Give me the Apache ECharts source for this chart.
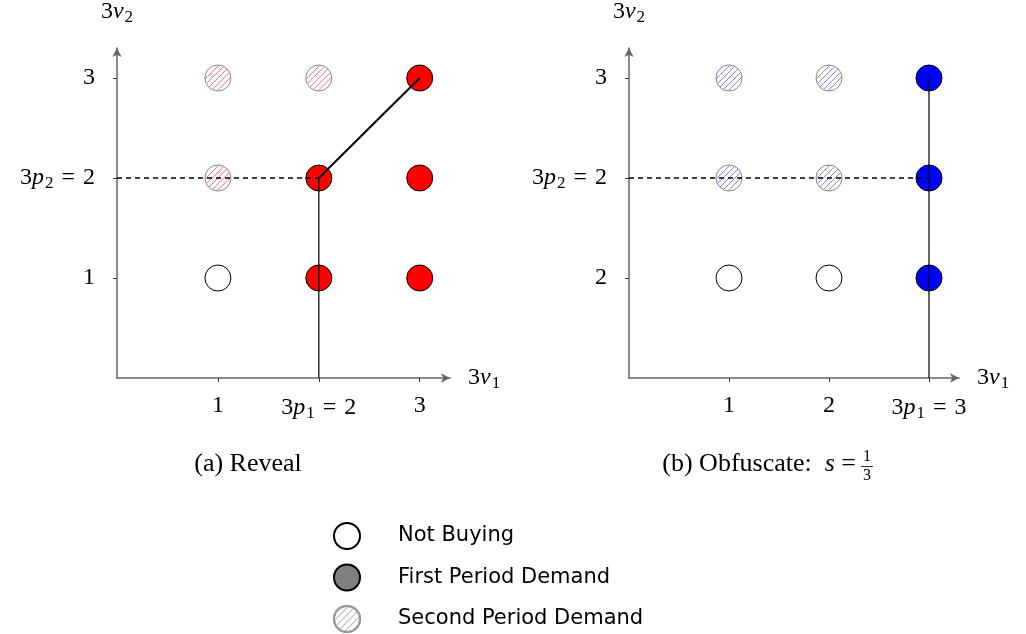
<!DOCTYPE html>
<html><head><meta charset="utf-8">
<script src="https://cdn.jsdelivr.net/npm/echarts@6/dist/echarts.min.js"></script>
<style>html,body{margin:0;padding:0;background:#fff}#c{width:1026px;height:634px}</style>
</head><body><div id="c"></div>
<script>
// ---- data ----
const tickValues = [1, 2, 3];
const aXTickLabels = ['1', '3{i|p}{s|1}\u2004=\u20042', '3'];
const aYTickLabels = ['1', '3{i|p}{s|2}\u2004=\u20042', '3'];
const bXTickLabels = ['1', '2', '3{i|p}{s|1}\u2004=\u20043'];
const bYTickLabels = ['2', '3{i|p}{s|2}\u2004=\u20042', '3'];

const aNotBuying = [[1, 1]];
const aFirst = [[2, 1], [3, 1], [2, 2], [3, 2], [3, 3]];
const aSecond = [[1, 2], [1, 3], [2, 3]];
const aSolid = [[2, 0], [2, 2]];
const aDiagonal = [[2, 2], [3, 3]];
const aDashed = [[0, 2], [2, 2]];

const bNotBuying = [[1, 1], [2, 1]];
const bFirst = [[3, 1], [3, 2], [3, 3]];
const bSecond = [[1, 2], [2, 2], [1, 3], [2, 3]];
const bSolid = [[3, 0], [3, 3]];
const bDashed = [[0, 2], [3, 2]];

const legendNames = ['Not Buying', 'First Period Demand', 'Second Period Demand'];
const captionA = '(a) Reveal';
const captionB = '(b) Obfuscate:\u2002{i|s}\u2005=';

// ---- styles ----
const SERIF = '"Liberation Serif", "DejaVu Serif", serif';
const FS = 24;
const R = 13;
const richMath = {
  i: { fontFamily: SERIF, fontStyle: 'italic', fontSize: FS, color: '#000' },
  s: { fontFamily: SERIF, fontSize: 17, color: '#000', padding: [11, 0, 0, 1] }
};
function legendHatch(color) {
  return { symbol: 'rect', dashArrayX: [1, 0], dashArrayY: [1, 3.3], rotation: -Math.PI / 4, color: color, symbolSize: 1 };
}
function xAxis(grid, labels) {
  return {
    type: 'value', gridIndex: grid, min: 0, max: 3.3, interval: 1,
    name: '3{i|v}{s|1}', nameLocation: 'end', nameGap: 18,
    nameTextStyle: { fontFamily: SERIF, fontSize: FS, color: '#000', rich: richMath, verticalAlign: 'middle' },
    axisLine: { show: true, onZero: false, lineStyle: { color: '#666', width: 1.5 }, symbol: ['none', 'arrow'], symbolSize: [7, 9] },
    axisTick: { show: true, customValues: tickValues, length: 4, lineStyle: { color: '#333', width: 1 } },
    axisLabel: { customValues: tickValues, margin: 16, fontFamily: SERIF, fontSize: FS, color: '#000', rich: richMath,
      formatter: v => labels[Math.round(v) - 1] || '' },
    splitLine: { show: false }
  };
}
function yAxis(grid, labels) {
  return {
    type: 'value', gridIndex: grid, min: 0, max: 3.3, interval: 1,
    name: '3{i|v}{s|2}', nameLocation: 'end', nameGap: 22,
    nameTextStyle: { fontFamily: SERIF, fontSize: FS, color: '#000', rich: richMath, align: 'center' },
    axisLine: { show: true, onZero: false, lineStyle: { color: '#666', width: 1.5 }, symbol: ['none', 'arrow'], symbolSize: [7, 9] },
    axisTick: { show: true, customValues: tickValues, length: 4, lineStyle: { color: '#333', width: 1 } },
    axisLabel: { customValues: tickValues, margin: 22, fontFamily: SERIF, fontSize: FS, color: '#000', rich: richMath,
      formatter: v => labels[Math.round(v) - 1] || '' },
    splitLine: { show: false }
  };
}
function pts(name, data, grid, fill, border, decal) {
  return {
    type: 'scatter', name: name, xAxisIndex: grid, yAxisIndex: grid, data: data,
    symbol: 'circle', symbolSize: 2 * R, z: 3, silent: true,
    itemStyle: { color: fill, borderColor: border, borderWidth: 1, opacity: 1, decal: decal },
    emphasis: { disabled: true }
  };
}
// hatched circles drawn through the axes' scales (api.coord)
function hatched(name, data, grid, hatchColor) {
  return {
    type: 'custom', name: name, xAxisIndex: grid, yAxisIndex: grid, data: data, z: 3, silent: true,
    renderItem: function (params, api) {
      const c = api.coord([api.value(0), api.value(1)]);
      const children = [{ type: 'circle', shape: { cx: c[0], cy: c[1], r: R }, style: { fill: '#fff', stroke: null } }];
      const sp = 4.2, rr = R - 0.3, s = Math.SQRT1_2;
      for (let k = -3; k <= 3; k++) {
        const d = k * sp;
        if (Math.abs(d) >= rr - 0.5) continue;
        const h = Math.sqrt(rr * rr - d * d);
        const px = c[0] + d * s, py = c[1] + d * s;
        children.push({ type: 'line', shape: { x1: px - h * s, y1: py + h * s, x2: px + h * s, y2: py - h * s },
          style: { stroke: hatchColor, lineWidth: 1 } });
      }
      children.push({ type: 'circle', shape: { cx: c[0], cy: c[1], r: R }, style: { fill: null, stroke: '#888', lineWidth: 1 } });
      return { type: 'group', children: children };
    }
  };
}
function seg(data, grid, width, dashed) {
  return {
    type: 'line', xAxisIndex: grid, yAxisIndex: grid, data: data, symbol: 'none', z: 5, silent: true,
    lineStyle: { color: '#000', width: width, type: dashed ? [5, 4] : 'solid' },
    emphasis: { disabled: true }
  };
}

const chart = echarts.init(document.getElementById('c'), null, { renderer: 'canvas' });
chart.setOption({
  backgroundColor: '#fff',
  animation: false,
  aria: { enabled: false },
  grid: [
    { left: 117, top: 48, width: 333, height: 330 },
    { left: 629, top: 48, width: 330, height: 330 }
  ],
  xAxis: [xAxis(0, aXTickLabels), xAxis(1, bXTickLabels)],
  yAxis: [yAxis(0, aYTickLabels), yAxis(1, bYTickLabels)],
  legend: {
    orient: 'vertical', left: 333, top: 522, padding: 0, itemWidth: 26, itemHeight: 26, itemGap: 13.5,
    selectedMode: false,
    data: legendNames,
    textStyle: { fontFamily: '"DejaVu Sans", sans-serif', fontSize: 21, color: '#000', padding: [0, 0, 0, 33] }
  },
  series: [
    // legend-only series (empty)
    pts(legendNames[0], [], 0, '#fff', '#000'),
    pts(legendNames[1], [], 0, '#808080', '#000'),
    pts(legendNames[2], [], 0, '#fff', '#999', legendHatch('#bbbbbb')),
    // panel a
    pts('a-not', aNotBuying, 0, '#fff', '#000'),
    pts('a-first', aFirst, 0, '#ff0000', '#000'),
    hatched('a-second', aSecond, 0, '#ff6f6f'),
    seg(aSolid, 0, 1.2, false),
    seg(aDiagonal, 0, 2, false),
    seg(aDashed, 0, 1.3, true),
    // panel b
    pts('b-not', bNotBuying, 1, '#fff', '#000'),
    pts('b-first', bFirst, 1, '#0000ff', '#000'),
    hatched('b-second', bSecond, 1, '#7f7fff'),
    seg(bSolid, 1, 1.2, false),
    seg(bDashed, 1, 1.3, true)
  ],
  graphic: [
    { type: 'text', x: 248, y: 464, style: { text: captionA, fontFamily: SERIF, fontSize: 26, fill: '#000', align: 'center', verticalAlign: 'middle' } },
    { type: 'text', x: 856, y: 464, style: { text: captionB, fontFamily: SERIF, fontSize: 26, fill: '#000', align: 'right', verticalAlign: 'middle',
        rich: { i: { fontFamily: SERIF, fontStyle: 'italic', fontSize: 26 } } } },
    { type: 'text', x: 867, y: 457, style: { text: '1', fontFamily: SERIF, fontSize: 16, fill: '#000', align: 'center', verticalAlign: 'middle' } },
    { type: 'line', shape: { x1: 861, y1: 466.5, x2: 873, y2: 466.5 }, style: { stroke: '#000', lineWidth: 0.8 } },
    { type: 'text', x: 867, y: 476, style: { text: '3', fontFamily: SERIF, fontSize: 16, fill: '#000', align: 'center', verticalAlign: 'middle' } }
  ]
});
</script>
</body></html>
